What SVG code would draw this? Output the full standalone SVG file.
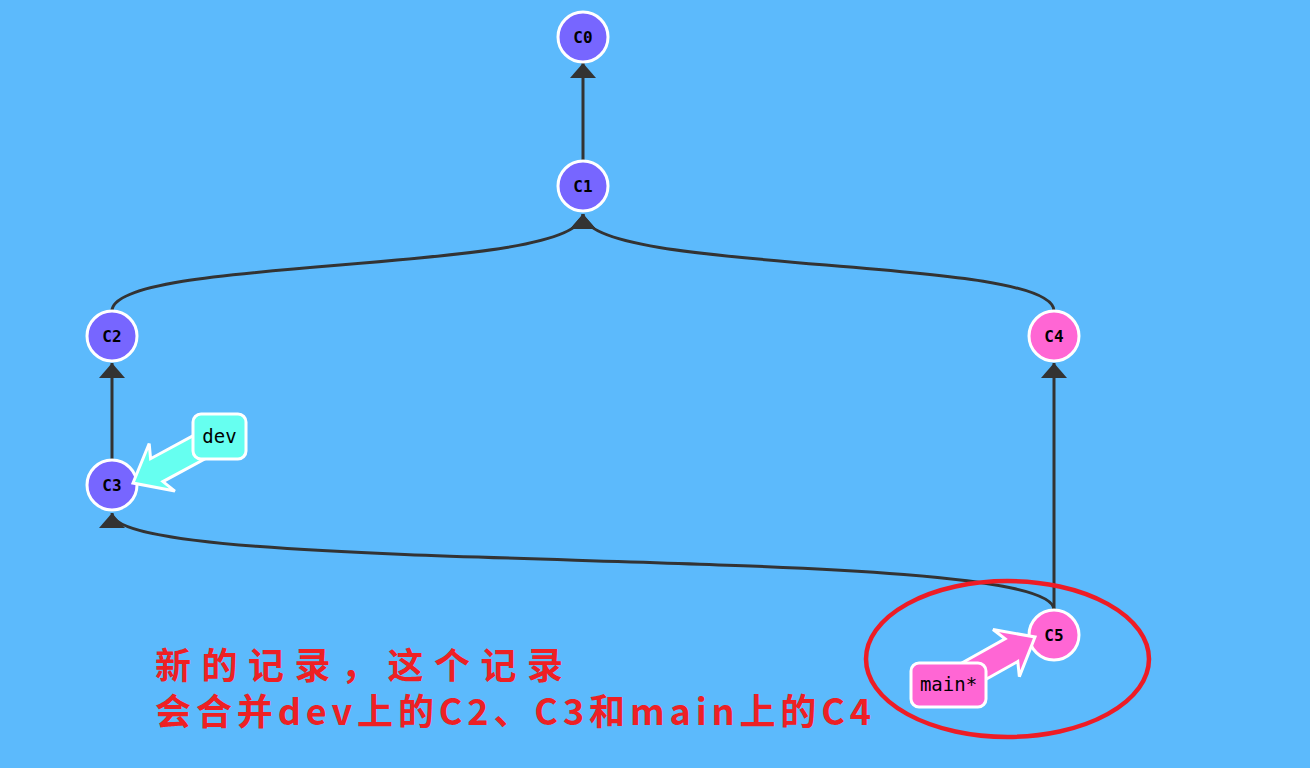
<svg xmlns="http://www.w3.org/2000/svg" width="1310" height="768" viewBox="0 0 1310 768">
<style>
.bg{fill:#5cbafc}
.edge{fill:none;stroke:#333;stroke-width:3}
.c{stroke:#fff;stroke-width:3}
.p{fill:#7766ff}
.k{fill:#ff66d4}
.nl{font-family:"DejaVu Sans Mono",monospace;font-weight:bold;font-size:16px;fill:#000;text-anchor:middle}
.bl{font-family:"DejaVu Sans Mono",monospace;font-size:19px;fill:#000;text-anchor:middle}
.lab{stroke:#fff;stroke-width:3}
.note{font-family:"Noto Sans CJK SC","Liberation Sans",sans-serif;font-weight:bold;font-size:36px;fill:#ee2024}
</style>
<defs>
<marker id="ah" markerUnits="userSpaceOnUse" viewBox="0 0 15 26" markerWidth="15" markerHeight="26" refX="15" refY="13" orient="auto">
<path d="M0,0 L15,13 L0,26 Z" fill="#333"/>
</marker>
<polygon id="barrow" points="-95,-13 -27,-13 -33,-27 0,0 -33,27 -27,13 -95,13"/>
</defs>
<rect class="bg" x="0" y="0" width="1310" height="768"/>
<g id="connectors">
<path class="edge" d="M583,161 L583,63" marker-end="url(#ah)"/>
<path class="edge" d="M112,311 C112,255 583,275 583,214" marker-end="url(#ah)"/>
<path class="edge" d="M1054,311 C1054,255 583,275 583,214" marker-end="url(#ah)"/>
<path class="edge" d="M112,460 L112,363" marker-end="url(#ah)"/>
<path class="edge" d="M1054,610 L1054,363" marker-end="url(#ah)"/>
<path class="edge" d="M1054,610 C1054,540 112,580 112,513" marker-end="url(#ah)"/>
</g>
<g id="C0"><circle class="c p" cx="583" cy="37" r="25"/><text class="nl" x="583" y="43">C0</text></g>
<g id="C1"><circle class="c p" cx="583" cy="186" r="25"/><text class="nl" x="583" y="192">C1</text></g>
<g id="C2"><circle class="c p" cx="112" cy="336" r="25"/><text class="nl" x="112" y="342">C2</text></g>
<g id="C3"><circle class="c p" cx="112" cy="485" r="25"/><text class="nl" x="112" y="491">C3</text></g>
<g id="C4"><circle class="c k" cx="1054" cy="336" r="25"/><text class="nl" x="1054" y="342">C4</text></g>
<g id="C5"><circle class="c k" cx="1054" cy="635" r="25"/><text class="nl" x="1054" y="641">C5</text></g>
<g id="dev">
<use href="#barrow" transform="translate(133,483) rotate(151.6)" fill="#66fff0" stroke="#fff" stroke-width="3"/>
<rect class="lab" x="193" y="414" width="53" height="45" rx="8" fill="#66fff0"/>
<text class="bl" x="219.5" y="443">dev</text>
</g>
<g id="main">
<use href="#barrow" transform="translate(1035,637) rotate(-29.2)" fill="#ff66d4" stroke="#fff" stroke-width="3"/>
<rect class="lab" x="911" y="663" width="75" height="44" rx="8" fill="#ff66d4"/>
<text class="bl" x="948.5" y="691">main*</text>
</g>
<ellipse cx="1007.5" cy="659" rx="141.5" ry="78" fill="none" stroke="#ee1c25" stroke-width="4.5"/>
<g id="note">
<text class="note"><tspan x="155" y="679" textLength="408" lengthAdjust="spacing">新的记录，这个记录</tspan><tspan x="155" y="725" textLength="716" lengthAdjust="spacing">会合并dev上的C2、C3和main上的C4</tspan></text>
</g>
</svg>
